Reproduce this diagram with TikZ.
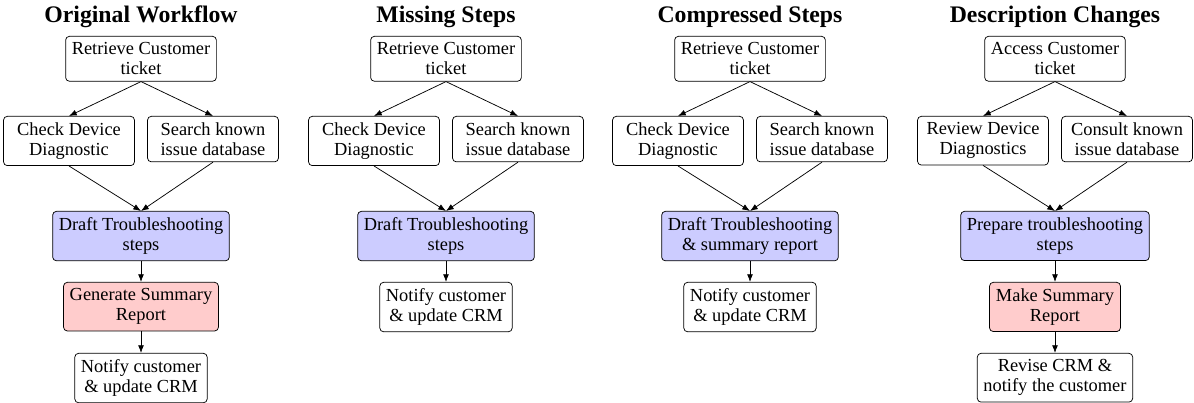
\documentclass[tikz,border=0pt]{standalone}
\usepackage{fontspec}
\setmainfont{Liberation Serif}
\usepackage{tikz}
\usetikzlibrary{arrows.meta}
\definecolor{StepBlue}{RGB}{204,204,255}
\definecolor{StepRed}{RGB}{255,204,204}

\begin{document}
\begin{tikzpicture}[x=0.5435pt,y=-0.5435pt,>={Latex[length=4.2pt,width=3.2pt]},box/.style={draw,fill=#1,rounded corners=2pt,align=center,anchor=north,minimum width=2.5cm,font=\fontsize{10}{11}\selectfont},box/.default=white,hd/.style={font=\fontsize{12.9}{15}\selectfont\bfseries,anchor=base}]
\useasboundingbox (0,0) rectangle (1194,403);
\foreach \x/\t [count=\i] in %
{141/Original Workflow,446/Missing Steps,750/Compressed Steps,1055/Description Changes} {
   \node[hd](t\i) at (\x,22.7) {\t};
}
% original workflow
   \node[box](a0) at(141,36) {Retrieve Customer\\ticket};
   \node[box](a1) at(69,116) {Check Device\\Diagnostic};
   \node[box](a2) at(213,116) {Search known\\issue database};
   \node[box=StepBlue](a3) at(141,211) {Draft Troubleshooting\\steps};
   \node[box=StepRed](a4) at(141,282) {Generate Summary\\Report};
   \node[box](a5) at(141,353) {Notify customer\\\& update CRM};
% missing steps
   \node[box](b0) at(446,36) {Retrieve Customer\\ticket};
   \node[box](b1) at(374,116) {Check Device\\Diagnostic};
   \node[box](b2) at(518,116) {Search known\\issue database};
   \node[box=StepBlue](b3) at(446,211) {Draft Troubleshooting\\steps};
   \node[box](b4) at(446,282) {Notify customer\\\& update CRM};
% compressed steps
   \node[box](c0) at(750,36) {Retrieve Customer\\ticket};
   \node[box](c1) at(678,116) {Check Device\\Diagnostic};
   \node[box](c2) at(822,116) {Search known\\issue database};
   \node[box=StepBlue](c3) at(750,211) {Draft Troubleshooting\\\& summary report};
   \node[box](c4) at(750,282) {Notify customer\\\& update CRM};
% description changes
   \node[box](d0) at(1055,36) {Access Customer\\ticket};
   \node[box](d1) at(983,116) {Review Device\\Diagnostics};
   \node[box](d2) at(1127,116) {Consult known\\issue database};
   \node[box=StepBlue](d3) at(1055,211) {Prepare troubleshooting\\steps};
   \node[box=StepRed](d4) at(1055,282) {Make Summary\\Report};
   \node[box](d5) at(1055,353) {Revise CRM \&\\notify the customer};
\foreach \p/\q in %
{a0/a1,a0/a2,a1/a3,a2/a3,a3/a4,a4/a5,b0/b1,b0/b2,b1/b3,b2/b3,b3/b4,c0/c1,c0/c2,c1/c3,c2/c3,c3/c4,d0/d1,d0/d2,d1/d3,d2/d3,d3/d4,d4/d5} {
   \draw[->] (\p.south) -- (\q.north);
}
\end{tikzpicture}
\end{document}
